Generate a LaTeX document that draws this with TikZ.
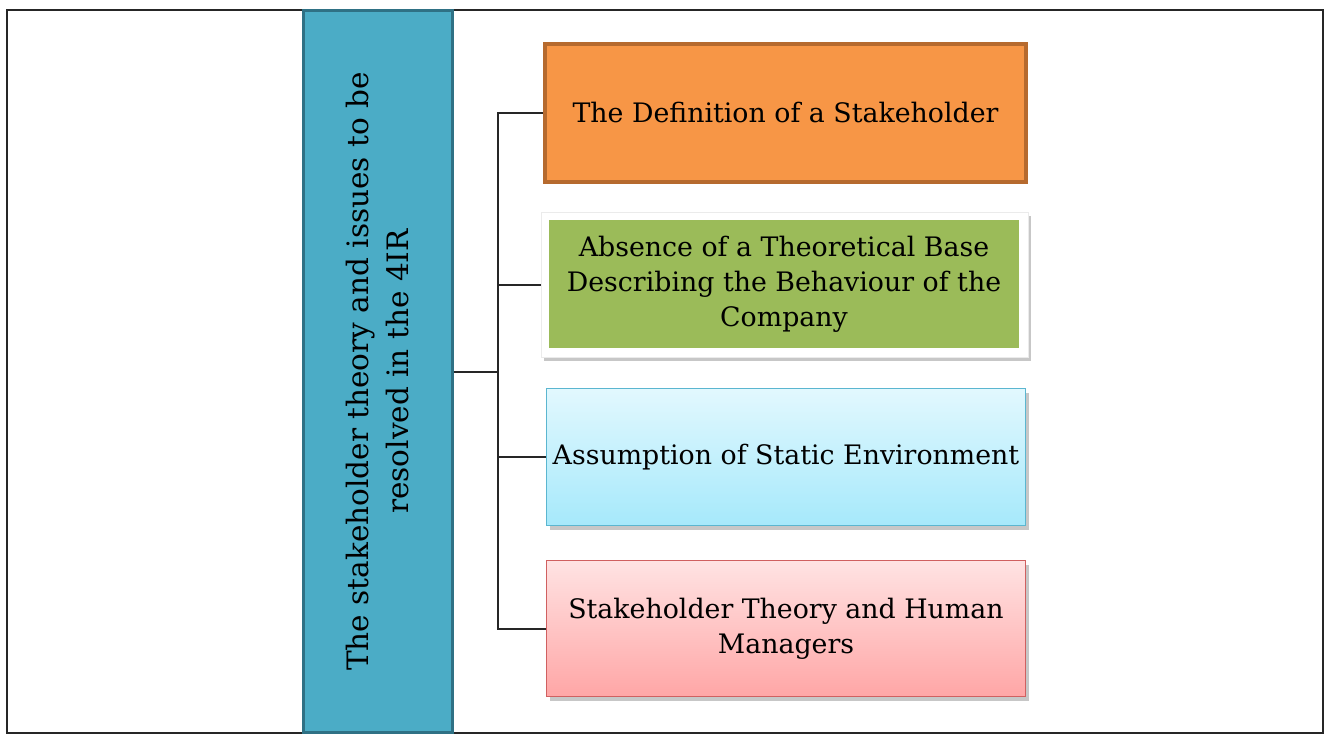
\documentclass[tikz,border=0pt]{standalone}
\usepackage{fontspec}
\setmainfont{DejaVu Serif}
\usetikzlibrary{shadows}
\definecolor{mainfill}{HTML}{4BACC6}
\definecolor{mainline}{HTML}{2F7185}
\definecolor{orfill}{HTML}{F79646}
\definecolor{orline}{HTML}{B66A2E}
\definecolor{grfill}{HTML}{9BBB59}
\definecolor{ltop}{HTML}{E2F8FE}
\definecolor{lbot}{HTML}{A6E9FB}
\definecolor{lline}{HTML}{5BB6D0}
\definecolor{ptop}{HTML}{FFE3E3}
\definecolor{pbot}{HTML}{FFA6A6}
\definecolor{pline}{HTML}{D06060}
\begin{document}
\begin{tikzpicture}[x=1pt,y=-1pt,
  boxtext/.style={align=center,font=\fontsize{26.8}{35}\selectfont,text=black,inner sep=0pt},
  softshadow/.style={drop shadow={shadow xshift=3pt,shadow yshift=-4pt,fill=black,opacity=0.22}},
  link/.style={line width=2pt,black!85}
]
\useasboundingbox (0,0) rectangle (1326,741);
\draw[line width=2pt,black!85] (7,10) rectangle (1323,733);

\node[draw=mainline,fill=mainfill,line width=3pt,minimum width=149pt,minimum height=721pt,inner sep=0pt] (main) at (377.5,371.5)
  {\rotatebox{90}{\parbox{680pt}{\centering\fontsize{29.5}{40}\selectfont The stakeholder theory and issues to be\\ resolved in the 4IR}}};

\node[boxtext,draw=orline,fill=orfill,line width=4pt,minimum width=481pt,minimum height=138pt] (orange) at (785.5,113) {The Definition of a Stakeholder};

\node[fill=white,draw=black!8,line width=0.6pt,minimum width=487pt,minimum height=145pt,softshadow] (grframe) at (784.5,284.5) {};
\node[boxtext,fill=grfill,minimum width=470pt,minimum height=128pt] (green) at (784,284) {Absence of a Theoretical Base\\ Describing the Behaviour of the\\ Company};

\node[boxtext,draw=lline,line width=1.8pt,top color=ltop,bottom color=lbot,minimum width=479pt,minimum height=137pt,softshadow] (lblue) at (786,457) {Assumption of Static Environment};

\node[boxtext,draw=pline,line width=1.8pt,top color=ptop,bottom color=pbot,minimum width=479pt,minimum height=136pt,softshadow] (pink) at (786,628.5) {Stakeholder Theory and Human\\ Managers};

\coordinate (bus) at (498,371.5);
\draw[link] (main.east) -- (bus);
\draw[link] (orange.west) -- (orange.west -| bus) -- (pink.west -| bus) -- (pink.west);
\draw[link] (grframe.west) -- (grframe.west -| bus);
\draw[link] (lblue.west) -- (lblue.west -| bus);
\end{tikzpicture}
\end{document}
